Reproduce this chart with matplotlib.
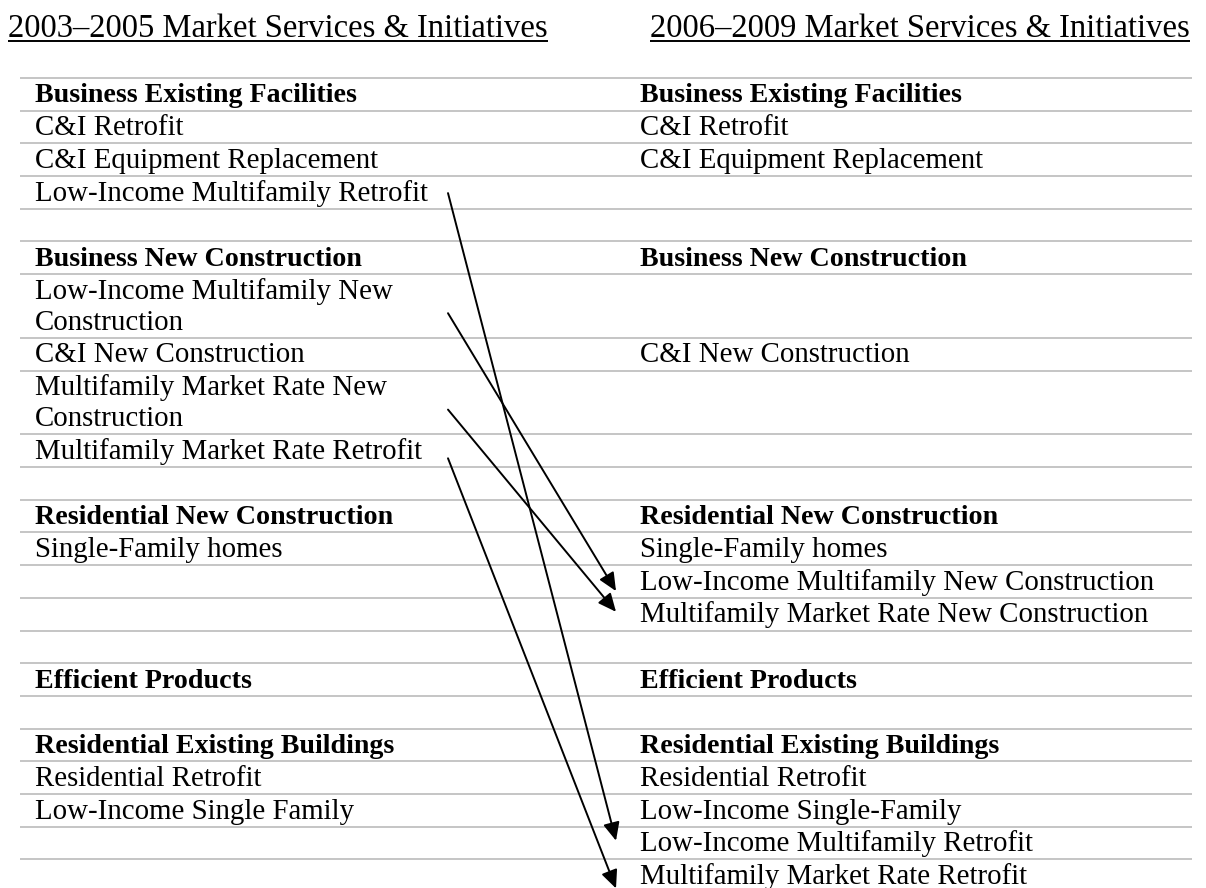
import matplotlib
matplotlib.use("Agg")
import matplotlib.pyplot as plt
from matplotlib.patches import FancyArrowPatch

# ---------------- data ----------------
left_title = "2003\u20132005 Market Services & Initiatives"
right_title = "2006\u20132009 Market Services & Initiatives"

left_labels = [
    "Business Existing Facilities",
    "C&I Retrofit",
    "C&I Equipment Replacement",
    "Low-Income Multifamily Retrofit",
    "",
    "Business New Construction",
    "Low-Income Multifamily New\nConstruction",
    "C&I New Construction",
    "Multifamily Market Rate New\nConstruction",
    "Multifamily Market Rate Retrofit",
    "",
    "Residential New Construction",
    "Single-Family homes",
    "",
    "",
    "",
    "Efficient Products",
    "",
    "Residential Existing Buildings",
    "Residential Retrofit",
    "Low-Income Single Family",
    "",
    "",
]

right_labels = [
    "Business Existing Facilities",
    "C&I Retrofit",
    "C&I Equipment Replacement",
    "",
    "",
    "Business New Construction",
    "",
    "C&I New Construction",
    "",
    "",
    "",
    "Residential New Construction",
    "Single-Family homes",
    "Low-Income Multifamily New Construction",
    "Multifamily Market Rate New Construction",
    "",
    "Efficient Products",
    "",
    "Residential Existing Buildings",
    "Residential Retrofit",
    "Low-Income Single-Family",
    "Low-Income Multifamily Retrofit",
    "Multifamily Market Rate Retrofit",
]

header_rows = [0, 5, 11, 16, 18]

# program moves: (row in 2003-2005 list, row in 2006-2009 list)
moves = [(3, 21), (6, 13), (8, 14), (9, 22)]

# ---------------- layout / style ----------------
W, H, DPI = 1206, 888, 100
FONT = "Liberation Serif"
BODY_SIZE = 20.8
BOLD_SIZE = 20.2
TITLE_SIZE = 23.5
RULE_COLOR = "#c0c0c0"

top0 = 78.0
line_pitch = 31.0
row_pad = 1.7
left_x = 35
right_x = 640
rule_x0, rule_x1 = 20, 1192

# arrow attach offsets within rows (px from row top)
start_off = [17, 39, 39, 24]
end_off = [14, 26, 14, 29]
arrow_x0, arrow_x1 = 448, 616

fig = plt.figure(figsize=(W / DPI, H / DPI), dpi=DPI)
ax = fig.add_axes([0, 0, 1, 1])
ax.set_xlim(0, W)
ax.set_ylim(H, 0)
ax.axis("off")

# row geometry
nlines = [max(l.count("\n"), r.count("\n")) + 1 for l, r in zip(left_labels, right_labels)]
row_tops = []
y = top0
for n in nlines:
    row_tops.append(y)
    y += row_pad + n * line_pitch

# rules (top of each row; no rule under the last row)
for ry in row_tops:
    ax.plot([rule_x0, rule_x1], [ry, ry], color=RULE_COLOR, lw=1.3,
            solid_capstyle="butt", zorder=1)

# text
for i, (lt, rt) in enumerate(zip(left_labels, right_labels)):
    is_head = i in header_rows
    weight = "bold" if is_head else "normal"
    size = BOLD_SIZE if is_head else BODY_SIZE
    for x, txt in ((left_x, lt), (right_x, rt)):
        for k, part in enumerate(txt.split("\n")):
            if not part:
                continue
            ax.text(x, row_tops[i] + 24.5 + k * line_pitch, part, fontsize=size,
                    fontweight=weight, family=FONT, va="baseline", ha="left",
                    color="black", zorder=3)

# titles with underline
renderer = fig.canvas.get_renderer()
inv = ax.transData.inverted()
for tx, title in ((8, left_title), (650, right_title)):
    t = ax.text(tx, 37, title, fontsize=TITLE_SIZE, family=FONT,
                va="baseline", ha="left", color="black")
    bb = t.get_window_extent(renderer)
    (x0, _), (x1, _) = inv.transform([(bb.x0, bb.y0), (bb.x1, bb.y1)])
    ax.plot([x0, x1], [41.5, 41.5], color="black", lw=1.4, solid_capstyle="butt")

# arrows
for (src, dst), so, eo in zip(moves, start_off, end_off):
    ya = row_tops[src] + so
    yb = row_tops[dst] + eo
    arr = FancyArrowPatch((arrow_x0, ya), (arrow_x1, yb),
                          arrowstyle="-|>,head_length=1.1,head_width=0.5",
                          mutation_scale=10, color="black", lw=1.4,
                          shrinkA=0, shrinkB=0, zorder=4)
    ax.add_patch(arr)

fig.savefig("out.png", dpi=DPI, facecolor="white")
